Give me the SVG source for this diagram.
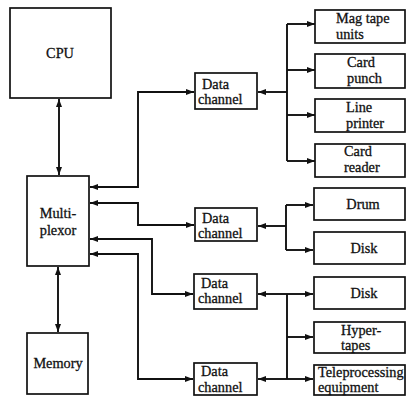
<svg xmlns="http://www.w3.org/2000/svg" width="408" height="396" viewBox="0 0 408 396">
<defs>
<marker id="ah" markerUnits="userSpaceOnUse" markerWidth="9" markerHeight="7" refX="8" refY="3" orient="auto-start-reverse">
<path d="M0,0 L8,3 L0,6 z" fill="#111"/>
</marker>
<style>
.box{fill:#fff;stroke:#111;stroke-width:1.7}
.t{font-family:"Liberation Serif","Times New Roman",serif;font-size:14.3px;fill:#111;stroke:#111;stroke-width:0.3}
.c{text-anchor:middle}
.ln{fill:none;stroke:#111;stroke-width:1.9}
.a2{marker-start:url(#ah);marker-end:url(#ah)}
.ae{marker-end:url(#ah)}
.as{marker-start:url(#ah)}
</style>
</defs>
<rect width="408" height="396" fill="#fff"/>
<g id="connectors">
<path class="ln a2" d="M59 99 V175"/>
<path class="ln a2" d="M58 267 V332"/>
<path class="ln a2" d="M90 187 H138 V92 H194"/>
<path class="ln a2" d="M90 203 H138 V225 H194"/>
<path class="ln a2" d="M90 239 H152 V294 H193"/>
<path class="ln a2" d="M90 254 H138 V379 H193"/>
<path class="ln as" d="M258 92 H287"/>
<path class="ln" d="M287 24 V161"/>
<path class="ln ae" d="M287 24 H315"/>
<path class="ln ae" d="M287 70 H315"/>
<path class="ln ae" d="M287 115 H315"/>
<path class="ln ae" d="M287 161 H315"/>
<path class="ln as" d="M258 226 H286"/>
<path class="ln" d="M286 205 V250"/>
<path class="ln ae" d="M286 205 H313"/>
<path class="ln ae" d="M286 250 H313"/>
<path class="ln as" d="M258 294 H287"/>
<path class="ln as" d="M258 379 H287"/>
<path class="ln" d="M287 294 V379"/>
<path class="ln ae" d="M287 294 H313"/>
<path class="ln ae" d="M287 337 H313"/>
<path class="ln ae" d="M287 379 H313"/>
</g>
<g id="cpu"><rect class="box" x="10" y="8" width="101" height="90"/><text class="t c" x="60" y="58">CPU</text></g>
<g id="multiplexor"><rect class="box" x="27" y="176" width="62" height="90"/><text class="t c" x="58" y="218">Multi-</text><text class="t c" x="58" y="235">plexor</text></g>
<g id="memory"><rect class="box" x="27" y="333" width="61" height="61"/><text class="t c" x="58" y="368">Memory</text></g>
<g id="dc1"><rect class="box" x="195" y="73" width="62" height="36"/><text class="t" x="202" y="89">Data</text><text class="t" x="198" y="104">channel</text></g>
<g id="dc2"><rect class="box" x="195" y="208" width="62" height="33"/><text class="t" x="202" y="223">Data</text><text class="t" x="198" y="238">channel</text></g>
<g id="dc3"><rect class="box" x="194" y="274" width="63" height="35"/><text class="t" x="201" y="288">Data</text><text class="t" x="198" y="303">channel</text></g>
<g id="dc4"><rect class="box" x="194" y="363" width="63" height="32"/><text class="t" x="201" y="376">Data</text><text class="t" x="198" y="392">channel</text></g>
<g id="magtape"><rect class="box" x="315" y="10" width="90" height="33"/><text class="t" x="336" y="23">Mag tape</text><text class="t" x="336" y="39">units</text></g>
<g id="cardpunch"><rect class="box" x="315" y="54" width="90" height="34"/><text class="t" x="347" y="67">Card</text><text class="t" x="347" y="83">punch</text></g>
<g id="lineprinter"><rect class="box" x="315" y="99" width="90" height="33"/><text class="t" x="346" y="112">Line</text><text class="t" x="346" y="128">printer</text></g>
<g id="cardreader"><rect class="box" x="315" y="144" width="90" height="33"/><text class="t" x="344" y="156">Card</text><text class="t" x="344" y="172">reader</text></g>
<g id="drum"><rect class="box" x="314" y="188" width="91" height="32"/><text class="t c" x="363" y="209">Drum</text></g>
<g id="disk1"><rect class="box" x="314" y="232" width="91" height="32"/><text class="t c" x="364" y="253">Disk</text></g>
<g id="disk2"><rect class="box" x="314" y="277" width="91" height="32"/><text class="t c" x="364" y="298">Disk</text></g>
<g id="hypertapes"><rect class="box" x="314" y="322" width="91" height="31"/><text class="t" x="341" y="335">Hyper-</text><text class="t" x="341" y="350">tapes</text></g>
<g id="teleprocessing"><rect class="box" x="314" y="365" width="91" height="30"/><text class="t" x="318" y="377">Teleprocessing</text><text class="t" x="318" y="392">equipment</text></g>
</svg>
